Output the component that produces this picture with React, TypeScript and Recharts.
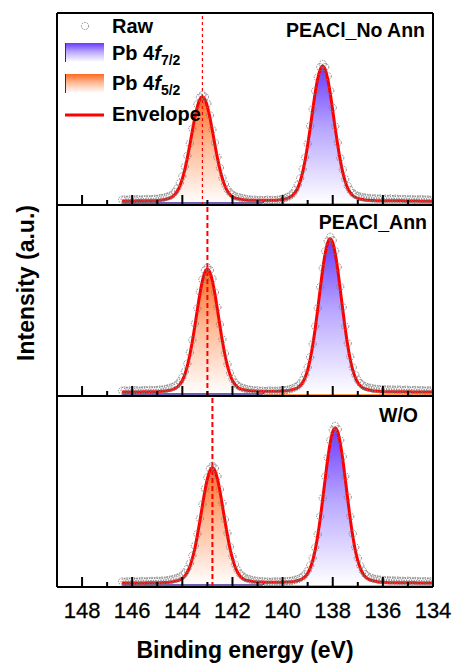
import { ComposedChart, Area, Line, Scatter, XAxis, YAxis, ReferenceLine } from "recharts";

// binding energy grid (eV), shared by the three spectra
const ENERGY = [
  146.4, 146.3, 146.2, 146.1, 146.0, 145.9, 145.8, 145.7, 145.6, 145.5,
  145.4, 145.3, 145.2, 145.1, 145.0, 144.9, 144.8, 144.7, 144.6, 144.5,
  144.4, 144.3, 144.2, 144.1, 144.0, 143.9, 143.8, 143.7, 143.6, 143.5,
  143.4, 143.3, 143.2, 143.1, 143.0, 142.9, 142.8, 142.7, 142.6, 142.5,
  142.4, 142.3, 142.2, 142.1, 142.0, 141.9, 141.8, 141.7, 141.6, 141.5,
  141.4, 141.3, 141.2, 141.1, 141.0, 140.9, 140.8, 140.7, 140.6, 140.5,
  140.4, 140.3, 140.2, 140.1, 140.0, 139.9, 139.8, 139.7, 139.6, 139.5,
  139.4, 139.3, 139.2, 139.1, 139.0, 138.9, 138.8, 138.7, 138.6, 138.5,
  138.4, 138.3, 138.2, 138.1, 138.0, 137.9, 137.8, 137.7, 137.6, 137.5,
  137.4, 137.3, 137.2, 137.1, 137.0, 136.9, 136.8, 136.7, 136.6, 136.5,
  136.4, 136.3, 136.2, 136.1, 136.0, 135.9, 135.8, 135.7, 135.6, 135.5,
  135.4, 135.3, 135.2, 135.1, 135.0, 134.9, 134.8, 134.7, 134.6, 134.5,
  134.4, 134.3, 134.2, 134.1, 134.0,
];

const TICKS = [134, 135, 136, 137, 138, 139, 140, 141, 142, 143, 144, 145, 146, 147, 148];
const SPLIT = 140.8; // boundary between the 4f5/2 and 4f7/2 components

// PEACl_No Ann
const ENV_NO_ANN = [
  1.1, 1.1, 1.1, 1.1, 1.1, 1.1, 1.2, 1.2, 1.2, 1.2, 1.2, 1.2,
  1.3, 1.3, 1.4, 1.5, 1.7, 1.9, 2.2, 2.6, 3.3, 4.5, 6.3, 9.0, 12.8, 17.7, 23.8, 30.7, 38.0, 45.0, 50.8, 54.6,
  56.0,
  54.6, 50.8, 45.0, 38.0, 30.7, 23.8, 17.7, 12.8, 9.0, 6.3, 4.5, 3.3, 2.7,
  2.4, 2.1, 1.9, 1.7, 1.6, 1.5, 1.5, 1.5, 1.5, 1.5, 1.5, 1.5, 1.5, 1.5, 1.5, 1.5,
  1.6, 1.7, 2.0, 2.2, 2.6, 3.2, 4.1, 5.6, 7.9, 11.4, 16.3, 22.7, 30.5, 39.4, 48.8, 57.9, 65.4, 70.3, 72.1,
  70.2, 65.3, 57.8, 48.7, 39.3, 30.4, 22.6, 16.2, 11.3, 7.8, 5.5, 4.0, 3.1, 2.5, 2.1, 1.85, 1.6, 1.5, 1.4, 1.35,
  1.3, 1.3, 1.3, 1.3, 1.3, 1.2, 1.2, 1.2, 1.2, 1.2, 1.2, 1.2, 1.1, 1.1, 1.1, 1.1, 1.1, 1.1, 1.0, 1.0, 1.0, 1.0, 1.0, 1.0,
];
const RAW_NO_ANN = [
  1.8, 1.9, 1.7, 2.0, 1.8, 1.9, 2.1, 1.8, 2.0, 1.9, 2.2, 2.0,
  2.1, 2.3, 2.2, 2.6, 2.7, 3.0, 3.4, 3.8, 4.6, 5.9, 7.8, 10.6, 14.1, 19.2, 24.9, 31.4, 39.2, 45.6, 51.9, 55.7,
  56.9,
  55.9, 52.3, 46.2, 38.6, 31.8, 24.2, 18.6, 13.3, 9.9, 7.2, 5.6, 4.5, 3.6,
  3.3, 2.9, 2.6, 2.3, 2.0, 1.9, 1.7, 1.8, 1.6, 1.7, 1.5, 1.6, 1.8, 1.6, 1.7, 1.6,
  1.8, 1.9, 2.3, 2.7, 3.2, 3.9, 5.0, 6.9, 9.5, 13.0, 17.9, 24.0, 31.2, 40.6, 49.4, 59.0, 66.1, 71.5, 73.2,
  71.6, 66.8, 59.1, 50.2, 40.4, 31.9, 23.8, 17.6, 12.6, 9.1, 6.8, 5.3, 4.4, 3.8, 3.4, 3.1, 2.9, 2.7, 2.6, 2.4,
  2.5, 2.3, 2.4, 2.2, 2.3, 2.2, 2.4, 2.1, 2.3, 2.2, 2.0, 2.2, 2.1, 1.9, 2.1, 2.0, 1.8, 2.0, 1.9, 2.0, 1.8, 1.9, 1.7, 1.8,
];

// PEACl_Ann
const ENV_ANN = [
  1.1, 1.1, 1.1, 1.1, 1.1, 1.1, 1.1, 1.1, 1.2, 1.2, 1.2, 1.2, 1.2, 1.2,
  1.3, 1.4, 1.5, 1.6, 1.8, 2.0, 2.4, 2.9, 3.7, 5.1, 7.2, 10.4, 14.9, 20.8, 27.9, 36.1, 44.7, 53.0, 59.8, 64.4,
  66.0,
  64.4, 59.8, 53.0, 44.7, 36.1, 27.9, 20.8, 14.9, 10.4, 7.2, 5.1, 3.7, 2.9,
  2.5, 2.2, 2.0, 1.8, 1.7, 1.6, 1.6, 1.5, 1.5, 1.5, 1.5, 1.5, 1.5, 1.5, 1.5,
  1.6, 1.6, 1.7, 1.8, 2.1, 2.4, 2.8, 3.4, 4.5, 6.2, 8.9, 12.8, 18.4, 25.7, 34.6, 44.8, 55.5, 65.9, 74.4, 80.1, 82.1,
  80.0, 74.3, 65.8, 55.4, 44.7, 34.5, 25.6, 18.3, 12.7, 8.8, 6.1, 4.4, 3.3, 2.7, 2.3, 2.0, 1.7, 1.6, 1.5, 1.4,
  1.3, 1.3, 1.3, 1.3, 1.3, 1.2, 1.2, 1.2, 1.2, 1.2, 1.2, 1.2, 1.1, 1.1, 1.1, 1.1, 1.1, 1.1, 1.1, 1.1, 1.1,
];
const RAW_ANN = [
  1.8, 2.0, 1.7, 1.9, 1.8, 2.1, 1.9, 1.8, 2.0, 2.1, 1.9, 2.2, 2.0, 2.1,
  2.2, 2.4, 2.3, 2.7, 2.9, 3.3, 3.7, 4.3, 5.2, 6.6, 8.8, 11.9, 16.1, 22.0, 28.6, 37.3, 45.4, 54.1, 60.6, 65.5,
  67.0,
  65.6, 61.0, 53.8, 45.9, 36.8, 29.0, 21.5, 15.8, 11.2, 8.1, 6.1, 4.7, 3.8,
  3.3, 2.9, 2.6, 2.3, 2.1, 1.9, 2.0, 1.7, 1.8, 1.6, 1.7, 1.9, 1.7, 1.8, 1.7,
  1.9, 2.0, 2.1, 2.3, 2.7, 3.1, 3.6, 4.3, 5.6, 7.5, 10.3, 14.2, 19.6, 26.5, 35.9, 45.5, 56.7, 66.6, 75.6, 81.0, 83.2,
  81.3, 75.7, 67.2, 56.8, 46.0, 35.9, 26.9, 19.8, 14.1, 10.2, 7.5, 5.8, 4.7, 4.0, 3.6, 3.3, 3.0, 2.8, 2.7, 2.5,
  2.6, 2.4, 2.5, 2.3, 2.4, 2.2, 2.4, 2.3, 2.1, 2.3, 2.2, 2.0, 2.1, 2.2, 1.9, 2.1, 2.0, 1.8, 2.0, 1.9, 1.8,
];

// W/O
const ENV_WO = [
  1.1, 1.1, 1.1, 1.1, 1.1, 1.1, 1.1, 1.1, 1.1, 1.1, 1.2, 1.2, 1.2, 1.2, 1.2, 1.2,
  1.3, 1.4, 1.4, 1.6, 1.7, 2.0, 2.3, 2.8, 3.6, 4.8, 6.9, 9.8, 14.1, 19.5, 26.3, 33.9, 42.0, 49.8, 56.2, 60.5,
  62.0,
  60.5, 56.2, 49.8, 42.0, 33.9, 26.3, 19.5, 14.1, 9.8, 6.9, 4.8, 3.6, 2.8,
  2.5, 2.2, 1.9, 1.8, 1.6, 1.6, 1.6, 1.5, 1.5, 1.5, 1.5, 1.5, 1.5, 1.5, 1.5,
  1.6, 1.6, 1.7, 1.8, 2.1, 2.4, 2.8, 3.5, 4.5, 6.3, 9.0, 13.0, 18.6, 26.0, 35.0, 45.4, 56.2, 66.7, 75.3, 81.1, 83.1,
  81.0, 75.2, 66.6, 56.1, 45.3, 34.9, 25.9, 18.5, 12.9, 8.9, 6.2, 4.4, 3.4, 2.7, 2.3, 2.0, 1.7, 1.6, 1.5, 1.4,
  1.3, 1.3, 1.3, 1.3, 1.3, 1.2, 1.2, 1.2, 1.2, 1.2, 1.2, 1.2, 1.1, 1.1, 1.1, 1.1, 1.1, 1.1, 1.1,
];
const RAW_WO = [
  1.9, 1.7, 2.0, 1.8, 2.1, 1.9, 1.8, 2.0, 2.2, 1.9, 2.1, 2.0, 2.2, 2.1, 2.3, 2.2,
  2.4, 2.3, 2.6, 2.8, 3.1, 3.4, 3.9, 4.4, 5.3, 6.5, 8.6, 11.4, 15.6, 20.8, 27.1, 35.2, 42.7, 51.0, 57.0, 61.6,
  63.1,
  61.8, 57.5, 50.6, 43.3, 34.7, 27.5, 20.3, 15.2, 10.9, 8.0, 6.0, 4.8, 3.9,
  3.4, 3.0, 2.6, 2.4, 2.2, 2.0, 2.1, 1.8, 1.9, 1.7, 1.8, 2.0, 1.8, 1.9, 1.8,
  2.0, 2.1, 2.2, 2.4, 2.8, 3.2, 3.7, 4.5, 5.7, 7.6, 10.4, 14.3, 19.9, 26.8, 36.3, 46.1, 57.5, 67.4, 76.5, 82.0, 84.2,
  82.4, 76.6, 68.0, 57.5, 46.6, 36.3, 27.2, 20.0, 14.3, 10.3, 7.6, 5.8, 4.7, 4.0, 3.6, 3.2, 3.0, 2.8, 2.7, 2.5,
  2.6, 2.4, 2.5, 2.3, 2.4, 2.2, 2.3, 2.1, 2.3, 2.2, 2.0, 2.2, 2.1, 1.9, 2.0, 2.1, 1.8, 2.0, 1.9,
];

const FONT = '"Liberation Sans", Arial, Helvetica, sans-serif';
const AXIS = { stroke: "#000", strokeWidth: 2 };

const buildRows = (env: number[], raw: number[]) =>
  ENERGY.map((e, i) => ({
    e,
    raw: raw[i],
    env: env[i],
    c52: e >= SPLIT ? env[i] : 0,
    c72: e >= SPLIT ? 0 : env[i],
  }));

const tickRenderer = (showLabel: boolean) => (props: any) => {
  const { x, y, payload } = props;
  const major = payload.value % 2 === 0;
  return (
    <g>
      <line x1={x} x2={x} y1={y} y2={y - (major ? 10 : 5)} stroke="#000" strokeWidth={2} />
      {showLabel && major && (
        <text x={x} y={y + 31} textAnchor="middle" fontSize={22} fontFamily={FONT} fill="#000" stroke="#000" strokeWidth={0.3}>
          {payload.value}
        </text>
      )}
    </g>
  );
};

const RawDot = (props: any) => (
  <circle cx={props.cx} cy={props.cy} r={3.6} fill="none" stroke="#7a7a7a" strokeWidth={0.9} strokeDasharray="1.6 1" />
);

const Gradients = ({ gid }: { gid: string }) => (
  <defs>
    <linearGradient id={`${gid}-52`} x1="0" y1="0" x2="0" y2="1">
      <stop offset="0%" stopColor="#ff6a1f" />
      <stop offset="45%" stopColor="#ffb894" />
      <stop offset="100%" stopColor="#ffffff" />
    </linearGradient>
    <linearGradient id={`${gid}-72`} x1="0" y1="0" x2="0" y2="1">
      <stop offset="0%" stopColor="#6a38ff" />
      <stop offset="45%" stopColor="#b7a5ff" />
      <stop offset="100%" stopColor="#ffffff" />
    </linearGradient>
  </defs>
);

interface PanelProps {
  env: number[];
  raw: number[];
  peak: number;
  gid: string;
  height: number;
  marginTop: number;
  marginBottom: number;
  refWidth: number;
  refDash: string;
  showLabels?: boolean;
  topAxis?: boolean;
}

function Panel({ env, raw, peak, gid, height, marginTop, marginBottom, refWidth, refDash, showLabels, topAxis }: PanelProps) {
  const rows = buildRows(env, raw);
  return (
    <ComposedChart width={458} height={height} data={rows} margin={{ top: marginTop, right: 24, bottom: marginBottom, left: 56 }}>
      <Gradients gid={gid} />
      <XAxis
        dataKey="e"
        type="number"
        domain={[134, 149]}
        reversed
        allowDataOverflow
        ticks={TICKS}
        interval={0}
        height={1}
        tickSize={0}
        tickMargin={0}
        tickLine={false}
        axisLine={AXIS}
        tick={tickRenderer(!!showLabels)}
      />
      {topAxis && (
        <XAxis xAxisId="top" orientation="top" type="number" domain={[134, 149]} reversed height={1} tick={false} tickLine={false} axisLine={AXIS} />
      )}
      <YAxis type="number" domain={[-1, 100]} allowDataOverflow width={1} tick={false} tickLine={false} axisLine={AXIS} />
      <YAxis yAxisId="right" orientation="right" type="number" domain={[-1, 100]} width={1} tick={false} tickLine={false} axisLine={AXIS} />
      <Area dataKey="c52" type="monotone" stroke="#ff7f00" strokeWidth={1.5} fill={`url(#${gid}-52)`} fillOpacity={1} isAnimationActive={false} />
      <Area dataKey="c72" type="monotone" stroke="#3f2a9e" strokeWidth={1.5} fill={`url(#${gid}-72)`} fillOpacity={1} isAnimationActive={false} />
      <Scatter dataKey="raw" shape={RawDot} isAnimationActive={false} />
      <Line dataKey="env" type="monotone" stroke="#ff0000" strokeWidth={3} dot={false} isAnimationActive={false} />
      <ReferenceLine x={peak} stroke="#ff0000" strokeWidth={refWidth} strokeDasharray={refDash} />
    </ComposedChart>
  );
}

const textStyle = { fontFamily: FONT, fontWeight: 700, fill: "#000" } as const;

export default function App() {
  return (
    <div style={{ position: "relative", width: 458, height: 670, background: "#fff", fontFamily: FONT }}>
      <style>{"body{margin:0}"}</style>
      <div style={{ position: "absolute", left: 0, top: 0 }}>
        <Panel env={ENV_NO_ANN} raw={RAW_NO_ANN} peak={143.2} gid="noann" height={206} marginTop={12} marginBottom={0} refWidth={1.2} refDash="3 3" topAxis />
      </div>
      <div style={{ position: "absolute", left: 0, top: 205 }}>
        <Panel env={ENV_ANN} raw={RAW_ANN} peak={143.0} gid="ann" height={192} marginTop={0} marginBottom={0} refWidth={2} refDash="5 3" />
      </div>
      <div style={{ position: "absolute", left: 0, top: 396 }}>
        <Panel env={ENV_WO} raw={RAW_WO} peak={142.8} gid="wo" height={274} marginTop={0} marginBottom={82} refWidth={2} refDash="5 3" showLabels />
      </div>
      <svg width={458} height={670} style={{ position: "absolute", left: 0, top: 0, pointerEvents: "none" }}>
        <Gradients gid="leg" />
        <circle cx={85} cy={26} r={3.6} fill="none" stroke="#7a7a7a" strokeWidth={0.9} strokeDasharray="1.6 1" />
        <text x={112} y={33} fontSize={20} {...textStyle}>Raw</text>
        <rect x={65} y={43} width={39} height={19} fill="url(#leg-72)" />
        <line x1={65.5} x2={65.5} y1={43} y2={62} stroke="#333" strokeWidth={1} />
        <text x={112} y={60} fontSize={20} {...textStyle}>
          Pb 4<tspan fontStyle="italic">f</tspan>
          <tspan fontSize={14} dy={5}>7/2</tspan>
        </text>
        <rect x={65} y={74} width={39} height={19} fill="url(#leg-52)" />
        <line x1={65.5} x2={65.5} y1={74} y2={93} stroke="#333" strokeWidth={1} />
        <text x={112} y={90} fontSize={20} {...textStyle}>
          Pb 4<tspan fontStyle="italic">f</tspan>
          <tspan fontSize={14} dy={5}>5/2</tspan>
        </text>
        <line x1={65} x2={104} y1={115} y2={115} stroke="#ff0000" strokeWidth={3} />
        <text x={112} y={121} fontSize={20} {...textStyle}>Envelope</text>

        <text x={425} y={37} fontSize={19.5} textAnchor="end" {...textStyle}>PEACl_No Ann</text>
        <text x={427} y={229} fontSize={19.5} textAnchor="end" {...textStyle}>PEACl_Ann</text>
        <text x={418} y={422} fontSize={19.5} textAnchor="end" {...textStyle}>W/O</text>

        <text x={34} y={283} fontSize={23} textAnchor="middle" transform="rotate(-90 34 283)" {...textStyle}>Intensity (a.u.)</text>
        <text x={245} y={658} fontSize={23} textAnchor="middle" {...textStyle}>Binding energy (eV)</text>
      </svg>
    </div>
  );
}
